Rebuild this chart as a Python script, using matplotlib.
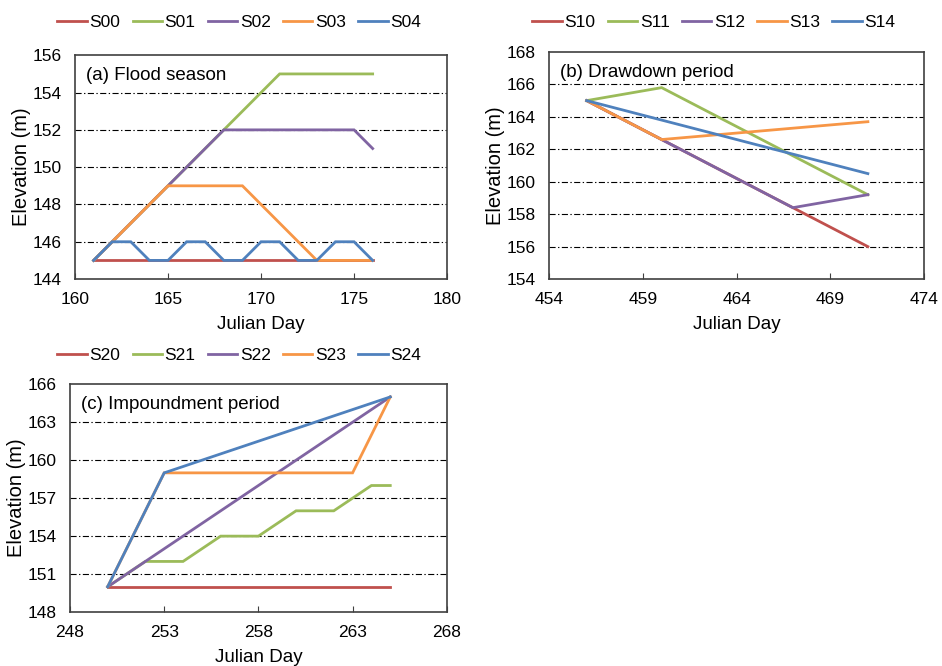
import matplotlib
matplotlib.use('Agg')
import matplotlib.pyplot as plt

plt.rcParams['font.family'] = ['Liberation Sans', 'DejaVu Sans']

colors = ['#C0504D', '#9BBB59', '#8064A2', '#F79646', '#4F81BD']

# (a) Flood season
a_names = ['S00', 'S01', 'S02', 'S03', 'S04']
a_x = [
    [161, 176],
    [161, 171, 176],
    [161, 168, 175, 176],
    [161, 165, 169, 173, 176],
    [161, 162, 163, 164, 165, 166, 167, 168, 169, 170, 171, 172, 173, 174, 175, 176],
]
a_y = [
    [145, 145],
    [145, 155, 155],
    [145, 152, 152, 151],
    [145, 149, 149, 145, 145],
    [145, 146, 146, 145, 145, 146, 146, 145, 145, 146, 146, 145, 145, 146, 146, 145],
]

# (b) Drawdown period
b_names = ['S10', 'S11', 'S12', 'S13', 'S14']
b_x = [
    [456, 471],
    [456, 460, 471],
    [456, 460, 467, 471],
    [456, 460, 471],
    [456, 471],
]
b_y = [
    [165, 156],
    [165, 165.8, 159.2],
    [165, 162.6, 158.4, 159.2],
    [165, 162.6, 163.7],
    [165, 160.5],
]

# (c) Impoundment period
c_names = ['S20', 'S21', 'S22', 'S23', 'S24']
c_x = [
    [250, 265],
    [250, 252, 254, 256, 258, 260, 262, 264, 265],
    [250, 265],
    [250, 253, 263, 265],
    [250, 253, 265],
]
c_y = [
    [150, 150],
    [150, 152, 152, 154, 154, 156, 156, 158, 158],
    [150, 165],
    [150, 159, 159, 165],
    [150, 159, 165],
]

fig = plt.figure(figsize=(9.42, 6.66), dpi=100)

panels = [
    # rect, names, xs, ys, xlim, ylim, ystep, title, legend anchor
    ([0.0796, 0.581, 0.395, 0.336], a_names, a_x, a_y, (160, 180), (144, 156), 2,
     '(a) Flood season', (0.254, 0.966)),
    ([0.583, 0.581, 0.398, 0.341], b_names, b_x, b_y, (454, 474), (154, 168), 2,
     '(b) Drawdown period', (0.758, 0.966)),
    ([0.0743, 0.081, 0.400, 0.342], c_names, c_x, c_y, (248, 268), (148, 166), 3,
     '(c) Impoundment period', (0.254, 0.466)),
]

for rect, names, xs, ys, xlim, ylim, ystep, title, anchor in panels:
    ax = fig.add_axes(rect)
    for name, x, y, c in zip(names, xs, ys, colors):
        ax.plot(x, y, color=c, lw=2.0, label=name, solid_joinstyle='miter')
    ax.set_xlim(*xlim)
    ax.set_ylim(*ylim)
    ax.set_xticks(range(xlim[0], xlim[1] + 1, 5))
    ax.set_yticks(range(ylim[0], ylim[1] + 1, ystep))
    # dash-dot horizontal grid lines (Excel style)
    for yv in range(ylim[0] + ystep, ylim[1], ystep):
        ax.axhline(yv, color='black', lw=0.8, ls=(0, (5.5, 2.2, 1.2, 2.2)), zorder=0)
    ax.tick_params(axis='x', direction='in', length=4, labelsize=12.5, pad=9.5, color='#404040')
    ax.tick_params(axis='y', length=0, labelsize=12.5, pad=9.5)
    for s in ax.spines.values():
        s.set_color('#404040')
        s.set_linewidth(1.2)
    ax.set_ylabel('Elevation (m)', fontsize=14.5, labelpad=1)
    ax.set_xlabel('Julian Day', fontsize=13.5, labelpad=6)
    ax.text(0.03, 0.91, title, transform=ax.transAxes, fontsize=13.5, va='center', ha='left')
    fig.legend(*ax.get_legend_handles_labels(), loc='center', bbox_to_anchor=anchor,
               ncol=5, frameon=False, fontsize=12.5, handlelength=1.7,
               handletextpad=0.15, columnspacing=0.7)

fig.savefig('out.png', dpi=100)
